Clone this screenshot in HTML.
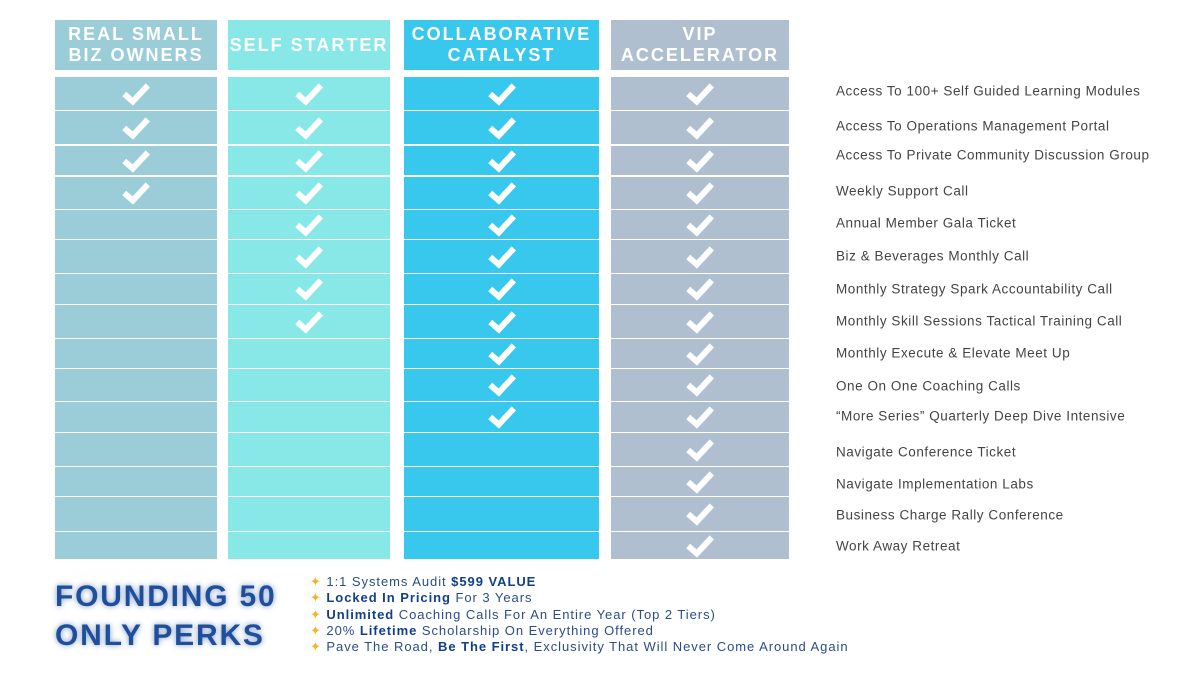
<!DOCTYPE html><html><head><style>
body{margin:0;width:1200px;height:675px;background:#fff;position:relative;overflow:hidden;font-family:"Liberation Sans",sans-serif}
div{position:absolute;box-sizing:border-box}
.h{color:#fff;font-weight:bold;letter-spacing:2px;font-size:18px;line-height:21px;text-align:center;display:flex;align-items:center;justify-content:center}
.c{display:flex;align-items:center;justify-content:center}
.l{left:836px;font-size:13.5px;color:#444;letter-spacing:.55px;white-space:nowrap;transform:translateY(-50%)}
.p{left:310px;font-size:13px;color:#2a4d8a;letter-spacing:.95px;white-space:nowrap}
.p b{color:#123f8a}
</style></head><body>
<div id="g"></div>
<div class="h" style="left:55px;top:20px;width:162px;height:50px;background:#9ACDD8">REAL SMALL<br>BIZ OWNERS</div>
<div class="h" style="left:228px;top:20px;width:162px;height:50px;background:#88E8E8">SELF STARTER</div>
<div class="h" style="left:404px;top:20px;width:195px;height:50px;background:#38C8EE">COLLABORATIVE<br>CATALYST</div>
<div class="h" style="left:611px;top:20px;width:178px;height:50px;background:#B0BFCF">VIP<br>ACCELERATOR</div>
<script>
var rows=[[77,109],[111,143],[146,174],[177,208],[210,238],[240,272],[274,303],[305,337],[339,367],[369,400],[402,431],[433,465],[467,495],[497,530],[532,558]];
var cols=[[55,162,'#9ACDD8',4],[228,162,'#88E8E8',8],[404,195,'#38C8EE',11],[611,178,'#B0BFCF',15]];
var labels=["Access To 100+ Self Guided Learning Modules","Access To Operations Management Portal","Access To Private Community Discussion Group","Weekly Support Call","Annual Member Gala Ticket","Biz & Beverages Monthly Call","Monthly Strategy Spark Accountability Call","Monthly Skill Sessions Tactical Training Call","Monthly Execute & Elevate Meet Up","One On One Coaching Calls","“More Series” Quarterly Deep Dive Intensive","Navigate Conference Ticket","Navigate Implementation Labs","Business Charge Rally Conference","Work Away Retreat"];
var ly=[91,126,155,191,223,256,289,321,353,386,416,452,484,515,546];
var chk='<svg width="30" height="24" viewBox="0 0 28 22"><path d="M3 11 L11 18 L25 3" stroke="#fff" stroke-width="5.5" fill="none"/></svg>';
var h='';
rows.forEach(function(r,i){cols.forEach(function(c){h+='<div class="c" style="left:'+c[0]+'px;top:'+r[0]+'px;width:'+c[1]+'px;height:'+(r[1]-r[0]+1)+'px;background:'+c[2]+'">'+(i<c[3]?chk:'')+'</div>';});
h+='<div class="l" style="top:'+ly[i]+'px">'+labels[i].replace(/&/g,'&amp;')+'</div>';});
document.getElementById('g').outerHTML=h;
</script>
<div style="left:55px;top:577px;font-size:30px;font-weight:900;color:#1f4f9a;letter-spacing:1.8px;line-height:39px;text-shadow:0 0 6px rgba(30,80,160,.6)">FOUNDING 50<br>ONLY PERKS</div>
<div class="p" style="top:574px"><span style="color:#f3b32a">✦</span> 1:1 Systems Audit <b>$599 VALUE</b></div>
<div class="p" style="top:590px"><span style="color:#f3b32a">✦</span> <b>Locked In Pricing</b> For 3 Years</div>
<div class="p" style="top:607px"><span style="color:#f3b32a">✦</span> <b>Unlimited</b> Coaching Calls For An Entire Year (Top 2 Tiers)</div>
<div class="p" style="top:623px"><span style="color:#f3b32a">✦</span> 20% <b>Lifetime</b> Scholarship On Everything Offered</div>
<div class="p" style="top:639px"><span style="color:#f3b32a">✦</span> Pave The Road, <b>Be The First</b>, Exclusivity That Will Never Come Around Again</div>
</body></html>
